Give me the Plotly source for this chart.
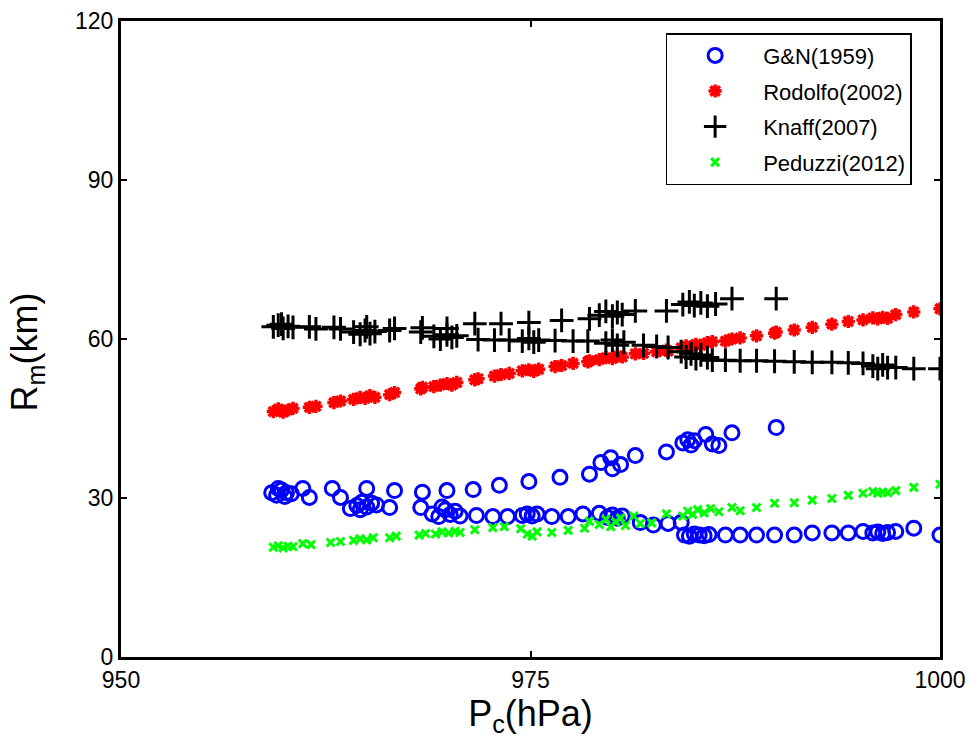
import plotly.graph_objects as go

# ---------------- data ----------------
gn_p = [959.2, 959.5, 959.8, 960.1, 960.4, 959.6, 960.0,
        961.1, 961.5, 962.9, 963.4, 965.0,
        964.0, 964.4, 964.7, 965.0, 965.3, 965.6, 964.6,
        966.7, 966.4, 968.4, 968.3, 969.9,
        969.0, 969.4, 969.8, 970.1, 970.4, 970.7, 969.6,
        971.5, 973.1, 974.9, 976.8, 978.6, 979.3, 979.9, 980.0, 980.5, 981.4,
        983.3, 984.3, 984.6, 984.8, 985.0, 985.7, 986.1, 986.5, 987.3, 990.0,
        971.7, 972.7, 973.6, 974.5, 974.8, 975.1, 975.4, 976.3, 977.3, 978.2,
        979.2, 979.7, 980.0, 980.3, 980.6, 981.7, 982.5, 983.4, 984.2,
        984.4, 984.7, 985.0, 985.3, 985.6, 985.9,
        986.9, 987.8, 988.8, 989.9, 991.1, 992.2, 993.4, 994.4, 995.3,
        995.9, 996.2, 996.5, 996.8, 997.3, 998.4, 1000.0]
gn_r = [31.0, 30.5, 31.5, 31.0, 30.8, 31.8, 30.3,
        31.8, 30.1, 31.8, 30.1, 31.8,
        28.0, 28.6, 29.2, 28.3, 29.0, 28.7, 27.8,
        31.4, 28.2, 31.1, 28.2, 31.4,
        27.0, 26.5, 27.8, 26.9, 27.5, 26.6, 28.3,
        31.6, 32.4, 33.1, 33.9, 34.5, 36.7, 37.6, 35.5, 36.3, 38.0,
        38.7, 40.4, 41.0, 40.0, 40.8, 42.0, 40.2, 39.9, 42.3, 43.3,
        26.7, 26.5, 26.5, 26.7, 27.0, 26.6, 27.0, 26.5, 26.5, 27.0,
        27.1, 26.3, 26.8, 26.2, 26.6, 25.4, 24.9, 25.2, 25.4,
        23.0, 22.8, 23.2, 23.0, 22.9, 23.1,
        23.0, 23.0, 23.0, 23.0, 23.0, 23.4, 23.4, 23.4, 23.7,
        23.4, 23.6, 23.3, 23.5, 23.7, 24.3, 23.0]

rod_p = [959.3, 959.6, 959.9, 960.2, 960.5, 959.8,
         961.5, 961.9, 963.0, 963.4, 964.2, 964.6, 964.9, 965.2, 965.5,
         966.4, 966.7, 968.3, 968.4, 969.1, 969.5, 969.9, 970.2, 970.5,
         971.6, 971.8, 972.8, 973.2, 973.7, 974.5, 974.9, 975.2, 975.5,
         976.5, 976.9, 977.6, 978.5, 978.6, 979.2, 979.6, 980.0, 980.3, 980.6,
         981.4, 981.9, 982.7, 983.3, 983.4, 984.2, 984.5, 984.8, 985.1, 985.4,
         985.8, 986.1, 986.9, 987.3, 987.8, 988.8, 989.9, 990.0, 991.1, 992.2,
         993.4, 994.4, 995.3, 995.9, 996.2, 996.5, 996.8, 997.3, 998.4, 1000.0]
rod_r = [46.3, 46.8, 46.2, 46.6, 46.9, 46.5,
         47.1, 47.3, 48.0, 48.3, 48.6, 49.0, 48.8, 49.3, 49.0,
         49.5, 49.9, 50.6, 50.9, 51.0, 51.3, 51.6, 51.3, 51.8,
         52.3, 52.5, 53.0, 53.3, 53.5, 54.0, 54.2, 53.9, 54.3,
         54.8, 55.0, 55.4, 55.7, 55.9, 56.1, 56.5, 56.3, 56.8, 56.6,
         57.2, 57.3, 57.6, 57.9, 57.7, 58.3, 58.7, 58.5, 59.0, 58.8,
         59.3, 59.5, 59.6, 60.0, 60.2, 60.6, 61.1, 61.3, 61.7, 62.2,
         62.8, 63.3, 63.6, 64.0, 63.8, 64.1, 63.9, 64.6, 65.1, 65.7]

knaff_p = [959.3, 959.6, 959.9, 960.2, 960.5, 959.8,
           961.5, 961.9, 963.0, 963.4,
           964.2, 964.6, 964.9, 965.2, 965.5, 965.0,
           966.7, 966.4, 968.4, 968.3,
           969.1, 969.5, 969.9, 970.2, 970.5, 969.9,
           971.6, 973.2, 974.9, 976.9, 978.6, 979.2, 979.6, 980.0, 980.3, 980.6,
           981.4, 983.3, 984.3, 984.7, 985.0, 985.4, 985.8, 986.3, 987.3, 990.0,
           971.8, 972.8, 973.7, 974.5, 974.9, 975.2, 975.5, 976.5, 977.6, 978.5,
           979.6, 980.0, 980.3, 980.7, 981.9, 982.7, 983.4, 984.2, 984.5, 984.8,
           985.1, 985.4, 985.8, 986.1, 986.9, 987.8, 988.8, 989.9, 991.1, 992.2,
           993.4, 994.4, 995.3, 995.9, 996.2, 996.5, 996.8, 997.3, 998.4, 1000.0]
knaff_r = [62.3, 62.6, 62.0, 62.4, 62.2, 62.8,
           62.3, 61.9, 62.2, 61.9,
           61.3, 60.9, 61.6, 61.0, 61.4, 62.3,
           62.0, 61.6, 62.1, 61.3,
           60.5, 60.0, 60.8, 60.3, 60.6, 62.0,
           62.9, 62.9, 63.1, 63.5, 63.8, 64.5, 65.2, 64.3, 65.0, 64.6,
           65.3, 65.3, 66.5, 67.0, 66.3, 66.8, 66.2, 66.6, 67.6, 67.6,
           59.9, 59.8, 59.8, 59.6, 60.1, 59.4, 59.8, 59.7, 59.6, 59.6,
           59.2, 59.8, 58.8, 59.4, 58.8, 58.6, 58.4, 57.6, 56.6, 57.2,
           56.3, 57.0, 56.5, 56.0, 56.0, 55.9, 55.9, 55.8, 55.7, 55.6,
           55.6, 55.5, 55.4, 54.9, 54.4, 55.1, 54.6, 54.6, 54.4, 54.4]

ped_p = [959.3, 959.6, 959.9, 960.2, 960.5,
         961.1, 961.6, 962.8, 963.4, 964.2, 964.6, 965.0, 965.4, 966.4, 966.8,
         968.2, 968.6, 969.2, 969.6, 970.0, 970.4, 970.7, 971.6, 972.7, 973.4,
         974.4, 974.8, 975.1, 975.4, 976.3, 977.3, 978.3, 978.6, 979.2, 979.6,
         979.9, 980.2, 980.5, 980.8, 981.3, 981.7, 982.4, 983.3, 984.3, 984.6,
         984.9, 985.2, 985.6, 986.0, 986.5, 987.3, 987.8, 988.8, 989.9, 991.1,
         992.2, 993.4, 994.4, 995.3, 995.9, 996.2, 996.5, 996.8, 997.3, 998.4, 1000.0]
ped_r = [20.7, 21.0, 20.6, 20.9, 20.8,
         21.4, 21.2, 21.6, 21.8, 22.0, 22.3, 22.1, 22.5, 22.5, 22.8,
         23.0, 23.3, 23.2, 23.6, 23.4, 23.7, 23.5, 24.0, 24.4, 24.6,
         24.2, 23.2, 22.8, 23.6, 23.5, 23.9, 24.3, 25.6, 25.0, 26.0,
         24.6, 25.5, 26.2, 24.8, 26.6, 25.2, 25.3, 27.0, 26.6, 27.5,
         26.9, 27.8, 27.2, 28.0, 27.4, 28.2, 27.6, 28.2, 29.0, 29.1,
         29.6, 29.9, 30.5, 30.9, 31.2, 30.9, 31.1, 31.0, 31.4, 32.0, 32.6]

x_ticks = [950, 975, 1000]
y_ticks = [0, 30, 60, 90, 120]

FONT = "Liberation Sans, Arial, sans-serif"

fig = go.Figure()
fig.add_trace(go.Scatter(x=gn_p, y=gn_r, mode="markers", name="G&N(1959)", legendgroup="a",
                         marker=dict(symbol="circle-open", size=14, color="#0000FF",
                                     line=dict(width=3, color="#0000FF"))))
fig.add_trace(go.Scatter(x=rod_p, y=rod_r, mode="markers", name="Rodolfo(2002)", legendgroup="b",
                         marker=dict(symbol="asterisk-open", size=11, color="#FF0000",
                                     line=dict(width=3.5, color="#FF0000"))))
fig.add_trace(go.Scatter(x=knaff_p, y=knaff_r, mode="markers", name="Knaff(2007)", legendgroup="c",
                         marker=dict(symbol="cross-thin-open", size=17, color="#000000",
                                     line=dict(width=3, color="#000000"))))
fig.add_trace(go.Scatter(x=ped_p, y=ped_r, mode="markers", name="Peduzzi(2012)", legendgroup="d",
                         marker=dict(symbol="x-thin-open", size=8, color="#00FF00",
                                     line=dict(width=3, color="#00FF00"))))

axis_common = dict(showgrid=False, zeroline=False, showline=True, linecolor="black",
                   linewidth=3, mirror="ticks", ticks="inside", ticklen=6, tickwidth=2,
                   tickcolor="black", automargin=False,
                   tickfont=dict(family=FONT, size=23, color="black"))

fig.update_xaxes(range=[950, 1000], tickvals=x_ticks, ticktext=[str(v) for v in x_ticks],
                 title=dict(text="P<sub>c</sub>(hPa)", font=dict(family=FONT, size=36, color="black"),
                            standoff=4),
                 **axis_common)
fig.update_yaxes(range=[0, 120], tickvals=y_ticks, ticktext=[str(v) for v in y_ticks],
                 **axis_common)

fig.add_annotation(text="R<sub>m</sub>(km)", xref="paper", yref="paper",
                   x=-0.115, y=0.48, xanchor="center", yanchor="middle",
                   textangle=-90, showarrow=False,
                   font=dict(family=FONT, size=36, color="black"))

fig.update_layout(
    width=969, height=745,
    margin=dict(l=121, r=29, t=21, b=88),
    paper_bgcolor="white", plot_bgcolor="white",
    showlegend=True,
    legend=dict(x=0.665, y=0.981, xanchor="left", yanchor="top",
                bgcolor="white", bordercolor="black", borderwidth=1.5,
                font=dict(family=FONT, size=22, color="black"),
                tracegroupgap=4, itemwidth=86),
)

fig.write_html("out.html")
